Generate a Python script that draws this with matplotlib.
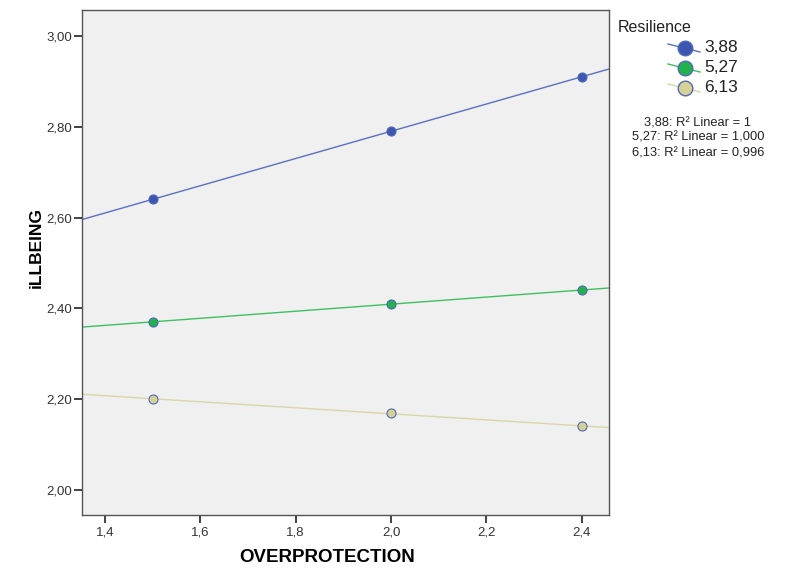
#!/usr/bin/env python3
"""
Interaction plot: iLLBEING by OVERPROTECTION for three Resilience levels, with linear fits.
"""
import numpy as np
import matplotlib
matplotlib.use('Agg')
import matplotlib.pyplot as plt
from matplotlib.lines import Line2D
from matplotlib.ticker import FuncFormatter

plt.rcParams['font.family'] = ['Liberation Sans', 'DejaVu Sans']

# Data
overprotection = [1.5, 2.0, 2.4]
resilience_levels = ['3,88', '5,27', '6,13']
illbeing = {
    '3,88': [2.64, 2.79, 2.91],
    '5,27': [2.37, 2.41, 2.44],
    '6,13': [2.20, 2.17, 2.14],
}
r2_labels = ['3,88: R² Linear = 1', '5,27: R² Linear = 1,000', '6,13: R² Linear = 0,996']

marker_colors = ['#3d56b0', '#22b24c', '#d6d196']
line_colors = ['#5a70c2', '#3fc060', '#d9d7a9']
edge_color = '#5068b8'

xlim = (1.352, 2.457)
ylim = (1.945, 3.057)

W, H = 803, 575
fig = plt.figure(figsize=(W / 100, H / 100), dpi=100)
ax = fig.add_axes([82 / W, 60 / H, 527 / W, 505 / H])
ax.set_facecolor('#f0f0f0')

for lvl, mc, lc in zip(resilience_levels, marker_colors, line_colors):
    y = illbeing[lvl]
    slope, icpt = np.polyfit(overprotection, y, 1)
    xs = np.array(xlim)
    ax.plot(xs, slope * xs + icpt, color=lc, lw=1.0, zorder=2)
    ax.plot(overprotection, y, 'o', ms=6.5, mfc=mc, mec=edge_color, mew=0.8, zorder=3)

ax.set_xlim(*xlim)
ax.set_ylim(*ylim)
ax.set_xticks([1.4, 1.6, 1.8, 2.0, 2.2, 2.4])
ax.set_yticks([2.0, 2.2, 2.4, 2.6, 2.8, 3.0])
ax.xaxis.set_major_formatter(FuncFormatter(lambda v, p: f'{v:.1f}'.replace('.', ',')))
ax.yaxis.set_major_formatter(FuncFormatter(lambda v, p: f'{v:.2f}'.replace('.', ',')))
ax.tick_params(direction='out', length=6, width=1.2, colors='#222222', labelsize=9.5, labelcolor='#333333')
ax.tick_params(axis='y', pad=1)
ax.tick_params(axis='x', pad=2.5)
for s in ax.spines.values():
    s.set_color('#555555')
    s.set_linewidth(1.0)

ax.set_xlabel('OVERPROTECTION', fontsize=13.5, fontweight='bold')
ax.xaxis.set_label_coords((327 - 82) / 527, -(549 - 515) / 505)
ax.set_ylabel('iLLBEING', fontsize=12.5, fontweight='bold')
ax.yaxis.set_label_coords(-(82 - 44) / 527, (515 - 247) / 505)

# legend drawn by hand to the right of the plot
fig.text(618 / W, 1 - 27 / H, 'Resilience', fontsize=11.5, va='center', ha='left', color='#222222')
for i, (lvl, mc, lc) in enumerate(zip(resilience_levels, marker_colors, line_colors)):
    yy = 1 - (48 + 20 * i) / H
    fig.add_artist(Line2D([668 / W, 700 / W], [yy + 4 / H, yy - 4 / H], color=lc, lw=1.0))
    fig.add_artist(Line2D([685 / W], [yy], marker='o', ms=10.5, mfc=mc, mec=edge_color, mew=1.0))
    fig.text(704 / W, yy, lvl, fontsize=12.5, va='center', ha='left', color='#222222')
for i, txt in enumerate(r2_labels):
    fig.text(698 / W, 1 - (123 + 15 * i) / H, txt, fontsize=9.3, ha='center', va='center',
             color='#222222')

plt.savefig('out.png', dpi=100)
